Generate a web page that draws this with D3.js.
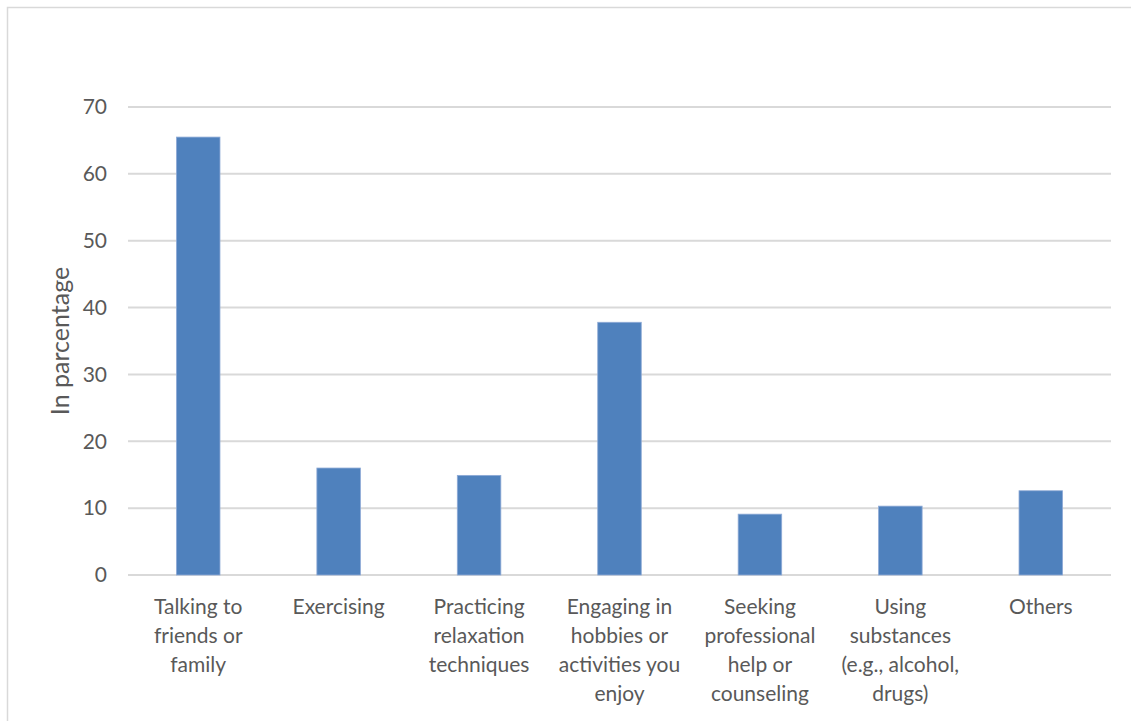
<!DOCTYPE html>
<html lang="en">
<head>
  <meta charset="UTF-8">
  <title>Coping strategies</title>
  <style>
    body { margin: 0; background: #fff; }
    text { font-family: Lato, "Open Sans", sans-serif; fill: #595959; }
  </style>
</head>
<body>

<svg id="chart" width="1131" height="721"></svg>

<script src="https://cdn.jsdelivr.net/npm/d3@7/dist/d3.min.js"></script>
<script>
// data
var categories = [
  ["Talking to", "friends or", "family"],
  ["Exercising"],
  ["Practicing", "relaxation", "techniques"],
  ["Engaging in", "hobbies or", "activities you", "enjoy"],
  ["Seeking", "professional", "help or", "counseling"],
  ["Using", "substances", "(e.g., alcohol,", "drugs)"],
  ["Others"]
];
var values = [65.5, 16.0, 14.9, 37.8, 9.1, 10.3, 12.6];
var yTicks = [0, 10, 20, 30, 40, 50, 60, 70];

var svg = d3.select("#chart"),
  plotLeft = 128, plotRight = 1111, plotTop = 107, plotBottom = 575,
  fontSize = "21px";

// outer chart border
svg.append("rect")
  .attr("x", 7.5).attr("y", 7.5)
  .attr("width", 1140).attr("height", 740)
  .attr("fill", "none")
  .attr("stroke", "#d9d9d9")
  .attr("stroke-width", 1.5);

var x = d3.scaleBand()
  .domain(d3.range(categories.length))
  .range([plotLeft, plotRight])
  .paddingInner(0.69)
  .paddingOuter(0.345);

var y = d3.scaleLinear().domain([0, 70]).range([plotBottom, plotTop]);

// gridlines
svg.append("g")
  .selectAll("line")
  .data(yTicks)
  .join("line")
  .attr("x1", plotLeft).attr("x2", plotRight)
  .attr("y1", function (d) { return y(d); })
  .attr("y2", function (d) { return y(d); })
  .attr("stroke", "#d9d9d9")
  .attr("stroke-width", 2);

// y tick labels
svg.append("g")
  .selectAll("text")
  .data(yTicks)
  .join("text")
  .attr("x", 107)
  .attr("y", function (d) { return y(d); })
  .attr("dy", "0.35em")
  .attr("text-anchor", "end")
  .style("font-size", fontSize)
  .text(function (d) { return d; });

// bars
svg.append("g")
  .selectAll("rect")
  .data(values)
  .join("rect")
  .attr("x", function (d, i) { return x(i); })
  .attr("y", function (d) { return y(d); })
  .attr("width", x.bandwidth())
  .attr("height", function (d) { return y(0) - y(d); })
  .attr("fill", "#4f81bd")
  .attr("stroke", "#8eaad6")
  .attr("stroke-width", 0.8);

// category labels
svg.append("g")
  .selectAll("text")
  .data(categories)
  .join("text")
  .attr("text-anchor", "middle")
  .style("font-size", fontSize)
  .each(function (lines, i) {
    var t = d3.select(this);
    lines.forEach(function (s, k) {
      t.append("tspan")
        .attr("x", x(i) + x.bandwidth() / 2)
        .attr("y", 614 + k * 29)
        .text(s);
    });
  });

// y axis title
svg.append("text")
  .attr("transform", "translate(69," + ((plotTop + plotBottom) / 2) + ") rotate(-90)")
  .attr("text-anchor", "middle")
  .style("font-size", "25px")
  .text("In parcentage");
</script>

</body>
</html>
